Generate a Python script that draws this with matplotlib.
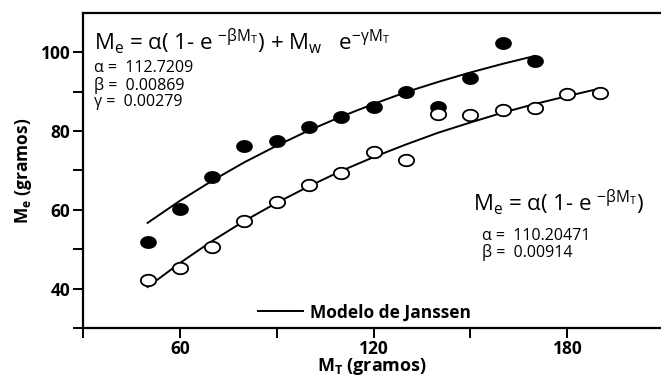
import numpy as np
import matplotlib
matplotlib.use("Agg")
import matplotlib.pyplot as plt
from matplotlib.path import Path
from matplotlib.lines import Line2D

plt.rcParams['font.family'] = ['Open Sans', 'DejaVu Sans']
plt.rcParams['mathtext.fontset'] = 'dejavusans'

# --- datos ---
mt_lleno = [50, 60, 70, 80, 90, 100, 110, 120, 130, 140, 150, 160, 170]
me_lleno = [51.9, 60.3, 68.4, 76.2, 77.5, 81.0, 83.5, 86.0, 89.9, 86.1, 93.4, 102.5, 97.7]

mt_vacio = [50, 60, 70, 80, 90, 100, 110, 120, 130, 140, 150, 160, 170, 180, 190]
me_vacio = [42.3, 45.3, 50.6, 57.2, 62.0, 66.3, 69.4, 74.7, 72.6, 84.3, 84.0, 85.3, 85.8, 89.4, 89.6]

# curvas del modelo (valores leidos cada 10 g)
mt_curva1 = [50, 60, 70, 80, 90, 100, 110, 120, 130, 140, 150, 160, 170]
me_curva1 = [56.7, 62.3, 67.4, 72.1, 76.3, 80.2, 83.7, 86.9, 89.9, 92.5, 94.9, 97.1, 99.1]

mt_curva2 = [50, 60, 70, 80, 90, 100, 110, 120, 130, 140, 150, 160, 170, 180, 190]
me_curva2 = [40.4, 46.5, 52.1, 57.2, 61.8, 66.0, 69.9, 73.4, 76.6, 79.6, 82.2, 84.7, 86.9, 88.9, 90.8]

# marcador eliptico (los puntos del original son algo achatados)
t = np.linspace(0, 2 * np.pi, 60)
elipse = Path(np.column_stack([np.cos(t), 0.75 * np.sin(t)]), closed=True)

fig = plt.figure(figsize=(6.61, 3.79), dpi=100)
ax = fig.add_axes([0.1256, 0.1346, 0.8744, 0.8311])

ax.plot(mt_curva1, me_curva1, color='black', lw=1.4, zorder=2)
ax.plot(mt_curva2, me_curva2, color='black', lw=1.4, zorder=2)

ax.plot(mt_lleno, me_lleno, linestyle='none', marker=elipse, markersize=11,
        markerfacecolor='black', markeredgecolor='black', zorder=3)
ax.plot(mt_vacio, me_vacio, linestyle='none', marker=elipse, markersize=11,
        markerfacecolor='white', markeredgecolor='black', markeredgewidth=1.3, zorder=3)

ax.set_xlim(30, 209)
ax.set_ylim(30, 110)
ax.set_xticks([60, 120, 180])
ax.set_xticks([30, 90, 150], minor=True)
ax.set_yticks([40, 60, 80, 100])
ax.set_yticks([30, 50, 70, 90], minor=True)

for lab in ax.get_xticklabels() + ax.get_yticklabels():
    lab.set_fontweight('bold')
ax.tick_params(which='both', direction='out', length=7, width=1.4, labelsize=12.5)
ax.tick_params(axis='x', pad=1.5)
ax.tick_params(axis='y', pad=2)
ax.spines['right'].set_visible(False)
for s in ['left', 'bottom', 'top']:
    ax.spines[s].set_linewidth(1.6)

ax.set_xlabel(r"M$_\mathregular{T}$ (gramos)", fontsize=13, fontweight='bold', labelpad=-1)
ax.set_ylabel(r"M$_\mathregular{e}$ (gramos)", fontsize=12.5, fontweight='bold', labelpad=5)

# ecuaciones
ax.text(33.5, 100.5,
        r"M$_\mathregular{e}$ = α( 1- e $^{\mathregular{-\beta M_T}}$) + M$_\mathregular{w}$   e$^{\mathregular{-\gamma M_T}}$",
        fontsize=16, ha='left', va='baseline')
ax.text(33.5, 96.0, "α =  112.7209", fontsize=11.5, va='center')
ax.text(33.5, 91.6, "β =  0.00869", fontsize=11.5, va='center')
ax.text(33.5, 87.3, "γ =  0.00279", fontsize=11.5, va='center')

ax.text(150.7, 59.7, r"M$_\mathregular{e}$ = α( 1- e $^{\mathregular{-\beta M_T}}$)",
        fontsize=16, ha='left', va='baseline')
ax.text(153.5, 53.4, "α =  110.20471", fontsize=11.5, va='center')
ax.text(153.5, 49.1, "β =  0.00914", fontsize=11.5, va='center')

# leyenda
h = Line2D([], [], color='black', lw=1.4)
leg = ax.legend([h], ["Modelo de Janssen"], loc='center left', bbox_to_anchor=(0.275, 0.05),
                frameon=False, handlelength=2.6, handletextpad=0.4,
                prop={'weight': 'bold', 'size': 12.5})

fig.savefig("out.png", dpi=100)
